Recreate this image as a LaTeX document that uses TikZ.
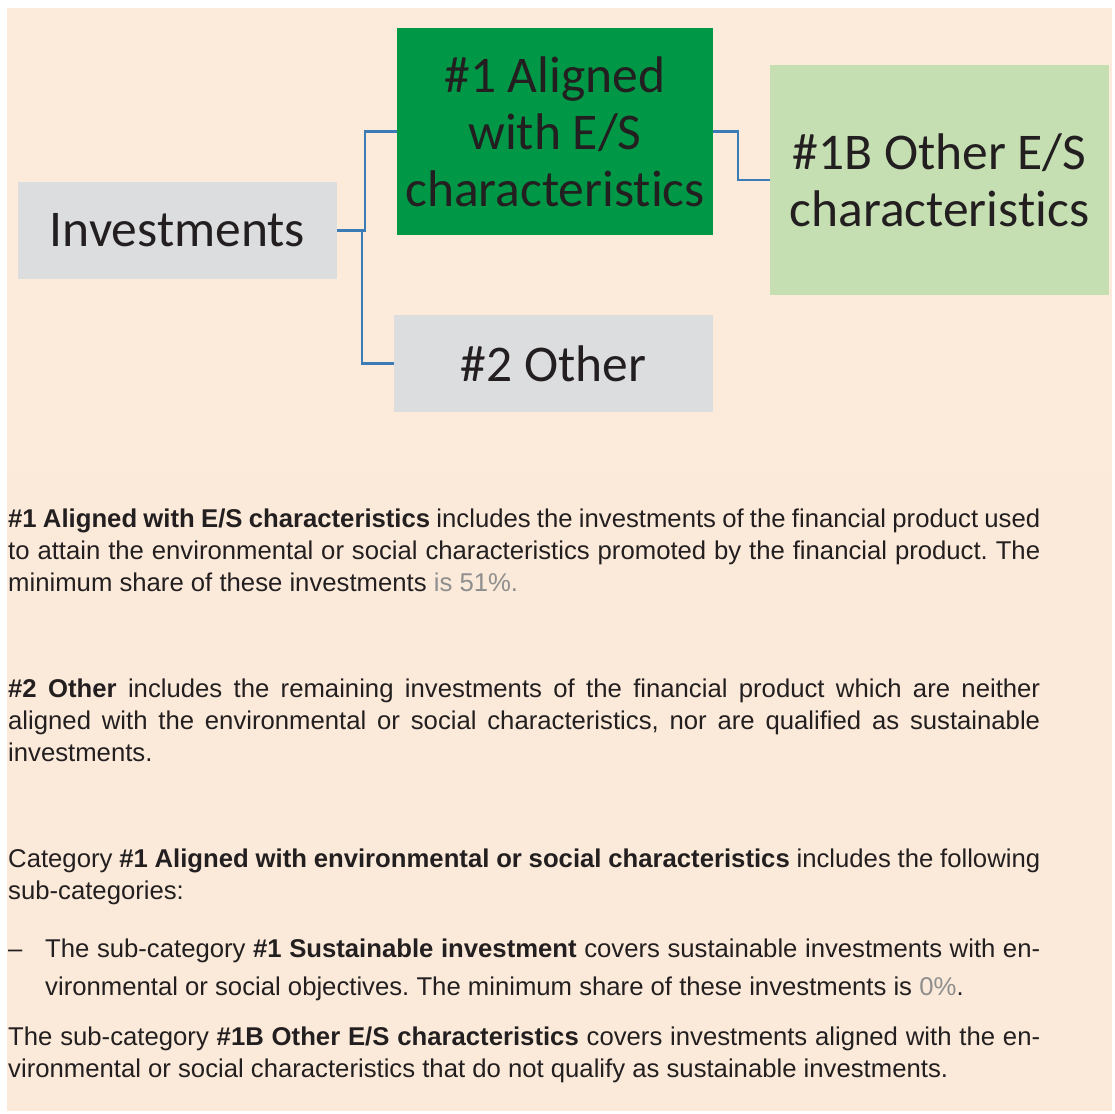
\documentclass[tikz,border=0pt]{standalone}
\usepackage{fontspec}
\setmainfont{Liberation Sans}
\newfontfamily\boxfont{Carlito}[Ligatures=NoCommon]
\usetikzlibrary{positioning}
\definecolor{paneltop}{HTML}{FCEADB}
\definecolor{panelbg}{HTML}{FBEAD9}
\definecolor{boxgrey}{HTML}{DCDDDF}
\definecolor{boxgreen}{HTML}{009846}
\definecolor{boxlight}{HTML}{C5DFB2}
\definecolor{linkblue}{HTML}{3B7CB6}
\definecolor{inkdark}{HTML}{231F20}
\definecolor{inkgrey}{HTML}{8E8E8E}
\hyphenpenalty=10000
\tolerance=9999
\frenchspacing
\tikzset{AssetChart/.style={
    x = 1pt, y = -1pt,
    base/.style = {inner sep=0pt, align=center, text=inkdark, font=\boxfont\fontsize{51.5}{57}\selectfont},
    greybox/.style = {base, fill=boxgrey, minimum width=319pt, minimum height=97pt},
    greenbox/.style = {base, fill=boxgreen, minimum width=316pt, minimum height=207pt},
    lightbox/.style = {base, fill=boxlight, minimum width=339pt, minimum height=230pt},
    link/.style = {draw=linkblue, line width=2.4pt},
    para/.style = {anchor=base west, inner sep=0pt, text width=1032pt, align=justify, text=inkdark, font=\fontsize{25.7}{32}\selectfont}
}}

\begin{document}
\begin{tikzpicture}[AssetChart]
        \useasboundingbox (0,0) rectangle (1115,1113);
        \fill[white] (0,0) rectangle (1115,1113);
        \fill[paneltop] (7,8) rectangle (1112,473);
        \fill[panelbg] (7,473) rectangle (1112,1111);

        \node [greybox] (inv) at (177.5,230.5) {Investments};
        \node [greenbox] (aligned) at (555,131.5) {\#1 Aligned\\ with E/S\\ characteristics};
        \node [greybox] (other) at (553.5,363.5) {\#2 Other};
        \node [lightbox] (otherES) at (939.5,180) {\#1B Other E/S\\ characteristics};

        \draw [link] (inv.east) -- ++(28,0) |- (aligned.west);
        \draw [link] (inv.east) -- ++(25,0) |- (other.west);
        \draw [link] (aligned.east) -- ++(25,0) |- (otherES.west);

        \node [para] (txtaligned) at (8,527) {%
            {\bfseries \#1 Aligned with E/S characteristics} includes the investments of the financial product used\linebreak
            to attain the environmental or social characteristics promoted by the financial product. The\linebreak
            minimum share of these investments {\color{inkgrey}is 51\%.}};
        \node [para] (txtother) at (8,697) {%
            {\bfseries \#2 Other} includes the remaining investments of the financial product which are neither\linebreak
            aligned with the environmental or social characteristics, nor are qualified as sustainable\linebreak
            investments.};
        \node [para] (txtcat) at (8,867) {%
            Category {\bfseries \#1 Aligned with environmental or social characteristics} includes the following\linebreak
            sub-categories:};
        \node [para, text width=30pt, align=left] (dash) at (8,957) {--};
        \node [para, text width=995pt, font=\fontsize{25.7}{38}\selectfont] (txtsust) at (45,957) {%
            The sub-category {\bfseries \#1 Sustainable investment} covers sustainable investments with en-\linebreak
            vironmental or social objectives. The minimum share of these investments is {\color{inkgrey}0\%}.};
        \node [para] (txtoes) at (8,1045) {%
            The sub-category {\bfseries \#1B Other E/S characteristics} covers investments aligned with the en-\linebreak
            vironmental or social characteristics that do not qualify as sustainable investments.};
    \end{tikzpicture}
\end{document}
